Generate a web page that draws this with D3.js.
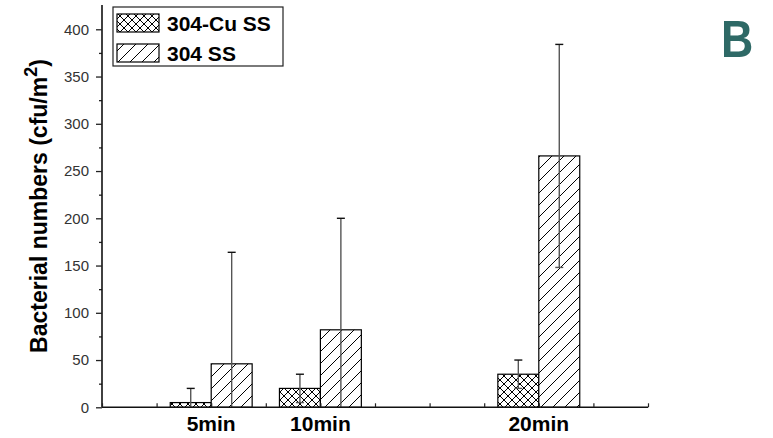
<!DOCTYPE html>
<html>
<head>
<meta charset="utf-8">
<script src="https://cdn.jsdelivr.net/npm/d3@7"></script>
<style>
  body { margin: 0; background: #fff; }
  svg { display: block; font-family: "Liberation Sans", Arial, sans-serif; }
</style>
</head>
<body>
<div id="chart"></div>
<script>
// ---------- data ----------
const categories = ["5min", "10min", "20min"];
const times = [5, 10, 20];                 // minutes, x position of each group
const cuValues = [5, 20, 35];              // 304-Cu SS
const cuErrors = [15, 15, 15];
const ssValues = [46, 82, 266];            // 304 SS
const ssErrors = [118, 118, 118];
const seriesNames = ["304-Cu SS", "304 SS"];
const yTicks = [0, 50, 100, 150, 200, 250, 300, 350, 400];

// ---------- setup ----------
const width = 773, height = 438;
const svg = d3.select("#chart").append("svg")
  .attr("width", width).attr("height", height);

const x = d3.scaleLinear().domain([0, 25]).range([102, 648]);
const y = d3.scaleLinear().domain([0, 425.7]).range([407.3, 5]);
const barW = x(1.875) - x(0);

// hatch patterns
const defs = svg.append("defs");
const cross = defs.append("pattern").attr("id", "cross")
  .attr("patternUnits", "userSpaceOnUse").attr("width", 8).attr("height", 8);
cross.append("rect").attr("width", 8).attr("height", 8).attr("fill", "#fff");
cross.append("path").attr("d", "M0,0L8,8M8,0L0,8")
  .attr("stroke", "#000").attr("stroke-width", 1);

const diag = defs.append("pattern").attr("id", "diag")
  .attr("patternUnits", "userSpaceOnUse").attr("width", 12).attr("height", 12);
diag.append("rect").attr("width", 12).attr("height", 12).attr("fill", "#fff");
diag.append("path").attr("d", "M-3,3L3,-3M0,12L12,0M9,15L15,9")
  .attr("stroke", "#000").attr("stroke-width", 1);

// ---------- bars ----------
const series = [
  { name: seriesNames[0], values: cuValues, errors: cuErrors, fill: "url(#cross)", off: -barW },
  { name: seriesNames[1], values: ssValues, errors: ssErrors, fill: "url(#diag)", off: 0 }
];

series.forEach(s => {
  const g = svg.append("g");
  g.selectAll("rect").data(times).join("rect")
    .attr("x", (t) => x(t) + s.off)
    .attr("y", (t, i) => y(s.values[i]))
    .attr("width", barW)
    .attr("height", (t, i) => y(0) - y(s.values[i]))
    .attr("fill", s.fill)
    .attr("stroke", "#000").attr("stroke-width", 1.2);

  // error bars
  times.forEach((t, i) => {
    const cx = x(t) + s.off + barW / 2;
    const hi = s.values[i] + s.errors[i];
    const lo = Math.max(0, s.values[i] - s.errors[i]);
    g.append("line").attr("x1", cx).attr("x2", cx)
      .attr("y1", y(hi)).attr("y2", y(lo))
      .attr("stroke", "#555").attr("stroke-width", 1.4);
    g.append("line").attr("x1", cx - 4).attr("x2", cx + 4)
      .attr("y1", y(hi)).attr("y2", y(hi))
      .attr("stroke", "#111").attr("stroke-width", 1.4);
    if (lo > 0) {
      g.append("line").attr("x1", cx - 4).attr("x2", cx + 4)
        .attr("y1", y(lo)).attr("y2", y(lo))
        .attr("stroke", "#555").attr("stroke-width", 1.4);
    }
  });
});

// ---------- axes ----------
const yAxisMinor = d3.axisLeft(y).tickValues(d3.range(25, 425, 50)).tickSize(3).tickFormat("");
svg.append("g").attr("transform", `translate(${x(0)},0)`).call(yAxisMinor)
  .call(g => g.select(".domain").remove())
  .call(g => g.selectAll("line").attr("stroke", "#222").attr("stroke-width", 1.3));

const yAxis = d3.axisLeft(y).tickValues(yTicks).tickSize(6).tickPadding(7);
svg.append("g").attr("transform", `translate(${x(0)},0)`).call(yAxis)
  .call(g => g.select(".domain").attr("d", `M0,${y(0)}V${y.range()[1]}`)
    .attr("stroke", "#111").attr("stroke-width", 1.6))
  .call(g => g.selectAll("line").attr("stroke", "#222").attr("stroke-width", 1.3))
  .call(g => g.selectAll("text").attr("font-size", 15).attr("fill", "#333")
    .attr("font-family", "'Liberation Sans', Arial, sans-serif"));

const xAxis = d3.axisBottom(x).tickValues(d3.range(0, 25.1, 2.5)).tickSize(-4).tickFormat("");
svg.append("g").attr("transform", `translate(0,${y(0)})`).call(xAxis)
  .call(g => g.select(".domain").attr("d", `M${x(0)},0H${x(25)}`)
    .attr("stroke", "#111").attr("stroke-width", 1.6))
  .call(g => g.selectAll("line").attr("stroke", "#222").attr("stroke-width", 1.2));

svg.append("g").selectAll("text").data(categories).join("text")
  .attr("x", (d, i) => x(times[i]))
  .attr("y", 431)
  .attr("text-anchor", "middle")
  .attr("font-size", 21).attr("font-weight", "bold")
  .text(d => d);

// y title
const yt = svg.append("text")
  .attr("transform", "translate(47,206) rotate(-90)")
  .attr("text-anchor", "middle")
  .attr("font-size", 23).attr("font-weight", "bold");
yt.append("tspan").text("Bacterial numbers (cfu/m");
yt.append("tspan").attr("dy", -10).attr("font-size", 18).text("2");
yt.append("tspan").attr("dy", 10).text(")");

// ---------- legend ----------
const legend = svg.append("g");
legend.append("rect").attr("x", 113).attr("y", 7).attr("width", 170).attr("height", 59)
  .attr("fill", "#fff").attr("stroke", "#222").attr("stroke-width", 1.2);
series.forEach((s, i) => {
  legend.append("rect").attr("x", 117).attr("y", 14 + i * 30)
    .attr("width", 42).attr("height", 18)
    .attr("fill", s.fill).attr("stroke", "#000").attr("stroke-width", 1.2);
  legend.append("text").attr("x", 167).attr("y", 31 + i * 29.5)
    .attr("font-size", 21).attr("font-weight", "bold").text(s.name);
});

// panel letter
svg.append("text").attr("x", 721).attr("y", 57)
  .attr("font-size", 52).attr("font-weight", "bold").attr("fill", "#2e6966")
  .attr("transform", "translate(721,0) scale(0.86,1) translate(-721,0)")
  .text("B");
</script>
</body>
</html>
